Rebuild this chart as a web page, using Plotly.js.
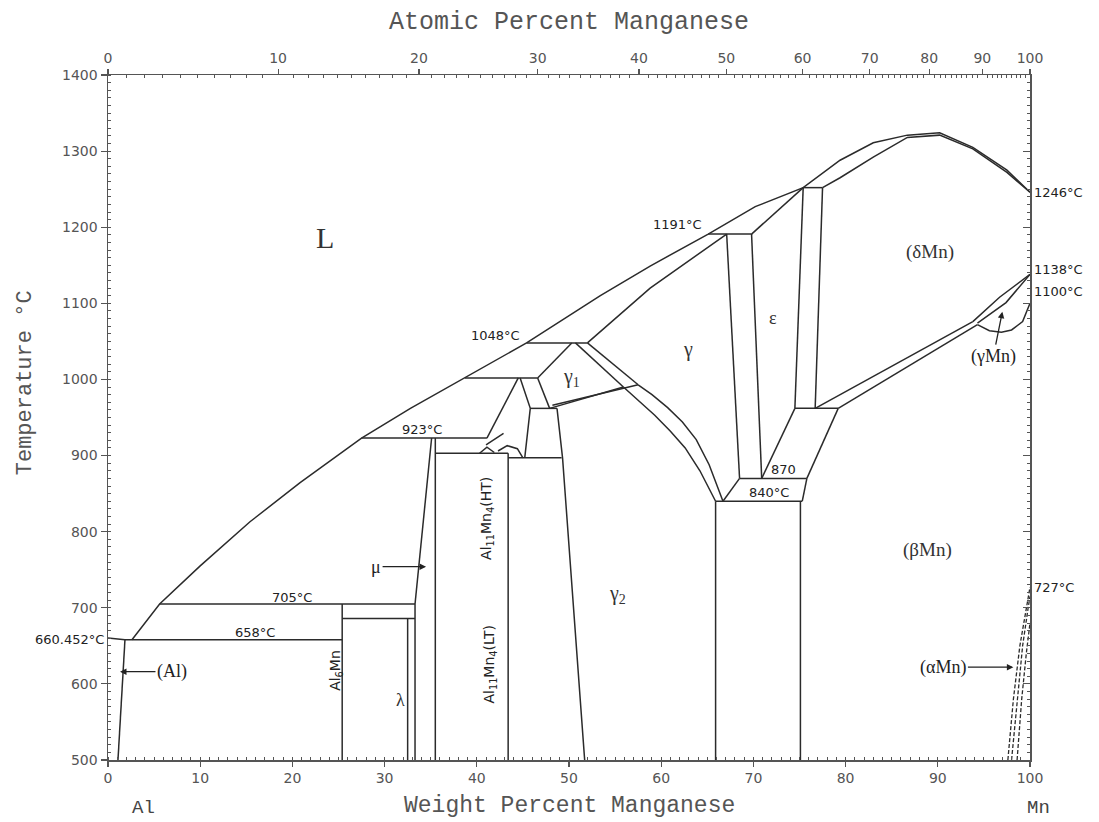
<!DOCTYPE html>
<html>
<head>
<meta charset="utf-8">
<script src="https://cdn.plot.ly/plotly-3.0.1.min.js"></script>
<style>
html,body{margin:0;padding:0;background:#fff;}
#chart{width:1099px;height:822px;}
</style>
</head>
<body>
<div id="chart"></div>
<script>
// ---------------- DATA (weight % Mn, temperature °C) ----------------
// horizontal invariant lines
const isoT    = [658, 705, 686, 923, 903, 897, 1002, 962, 1048, 1191, 1252, 962, 870, 840];
const isoFrom = [1.84, 5.6, 25.4, 27.5, 35.5, 43.4, 38.7, 45.8, 45.4, 65.1, 75.4, 74.5, 68.5, 65.9];
const isoTo   = [25.4, 33.3, 33.3, 41.1, 43.4, 49.2, 46.6, 48.7, 52.0, 69.8, 77.5, 79.2, 75.8, 75.3];

// liquidus
const liquidusWt = [2.6, 5.6, 10.0, 15.4, 20.8, 27.5, 32.8, 38.7, 45.4, 53.4, 58.8, 65.1, 70.2, 75.4, 79.4, 83.0, 86.7, 90.2, 93.8, 97.5, 100];
const liquidusT  = [658, 705, 755, 813, 864, 923, 962, 1002, 1048, 1110, 1149, 1191, 1227, 1252, 1288, 1311, 1321, 1324, 1305, 1275, 1246];
// (δMn) solidus
const deltaSolWt = [77.5, 79.4, 83.0, 86.7, 90.2, 93.8, 97.5, 100];
const deltaSolT  = [1252, 1265, 1292, 1318, 1321, 1303, 1272, 1246];
// γ solidus
const gammaSolWt = [52.0, 58.8, 67.1];
const gammaSolT  = [1048, 1120, 1191];
// Al side
const alMeltWt = [0, 1.84],      alMeltT = [660.452, 658];
const alSolvWt = [1.84, 1.08],   alSolvT = [658, 500];
// intermetallic boundaries
const al6MnWt  = [25.4, 25.4],   al6MnT  = [705, 500];
const lambdaWt = [32.5, 32.5],   lambdaT = [686, 500];
const lamRWt   = [33.3, 33.3],   lamRT   = [705, 500];
const muLWt    = [35.1, 33.3],   muLT    = [923, 705];
const muRWt    = [35.5, 35.5],   muRT    = [923, 500];
const al11RWt  = [43.4, 43.4],   al11RT  = [903, 500];
const diag1Wt  = [44.5, 41.1],   diag1T  = [1002, 923];
const diag2Wt  = [44.7, 45.8, 45.2], diag2T = [1002, 962, 897];
const gam2LWt  = [48.7, 49.3, 51.7], gam2LT = [962, 897, 500];
// γ1 field
const g1LeftWt = [46.6, 47.9],   g1LeftT = [1002, 962];
const g1TopWt  = [46.6, 50.3],   g1TopT  = [1002, 1048];
const g1RWt    = [50.7, 55.9],   g1RT    = [1048, 990];
const g1BotWt  = [47.9, 55.9],   g1BotT  = [962, 990];
const g1Bot2Wt = [48.2, 57.5],   g1Bot2T = [966, 993];
const g1g2Wt   = [52.0, 57.5],   g1g2T   = [1048, 993];
// γ / γ2 arches
const gArchWt  = [57.5, 59.0, 60.7, 62.3, 63.8, 65.2, 66.7], gArchT  = [993, 980, 963, 944, 921, 888, 840];
const g2ArchWt = [55.9, 57.6, 59.3, 61.0, 62.6, 64.2, 65.9], g2ArchT = [990, 972, 953, 932, 910, 880, 840];
// γ, ε fields
const gRWt     = [67.1, 68.5],   gRT     = [1191, 870];
const epsLWt   = [69.8, 70.9],   epsLT   = [1191, 870];
const epsTopWt = [69.8, 75.4],   epsTopT = [1191, 1252];
const epsRWt   = [75.4, 74.5],   epsRT   = [1252, 962];
const delLWt   = [77.5, 76.7],   delLT   = [1252, 962];
const epsLoWt  = [74.5, 70.9],   epsLoT  = [962, 870];
const betULWt  = [79.2, 75.8],   betULT  = [962, 870];
const c870aWt  = [68.5, 66.7],   c870aT  = [870, 840];
const c870bWt  = [75.8, 75.3],   c870bT  = [870, 840];
const g2RWt    = [65.9, 65.9],   g2RT    = [840, 500];
const betLWt   = [75.1, 75.1],   betLT   = [840, 500];
// δ / β / γMn
const dbUpWt   = [76.7, 93.8],   dbUpT   = [962, 1076];
const dbLoWt   = [79.2, 94.3],   dbLoT   = [962, 1072];
const lensUWt  = [93.8, 96.7, 100], lensUT = [1076, 1108, 1138];
const lensIWt  = [94.3, 97.4, 100], lensIT = [1074, 1101, 1138];
const loopWt   = [94.3, 95.6, 96.9, 98.0, 99.2, 100], loopT = [1072, 1064, 1062, 1065, 1076, 1100];
// small features near Al11Mn4
const arcAWt = [40.3, 41.1, 41.9],       arcAT = [903, 911, 904];
const arcBWt = [42.3, 43.3, 44.4, 45.0], arcBT = [906, 913, 909, 897];
const tickWt = [41.0, 42.9],             tickT = [914, 929];
// (αMn) dashed boundaries
const alphaAWt = [97.6, 98.2, 98.9, 99.6, 100], alphaAT = [500, 580, 650, 700, 727];
const alphaBWt = [98.0, 98.6, 99.2, 99.8, 100], alphaBT = [500, 580, 650, 700, 715];
const alphaCWt = [98.6, 99.1, 99.6, 100],       alphaCT = [500, 580, 640, 680];

// top axis: atomic percent labels
const atLabels = [0, 10, 20, 30, 40, 50, 60, 70, 80, 90, 100];
const AL_MASS = 26.9815, MN_MASS = 54.938;

// region labels
const regText = ['L', '(δMn)', '(βMn)', 'γ', 'ε', 'γ<sub>1</sub>', 'γ<sub>2</sub>', 'λ'];
const regWt   = [23.5, 89.2, 88.9, 62.9, 72.1, 50.3, 55.3, 31.7];
const regT    = [1187, 1167, 776, 1039, 1081, 1002, 717, 579];
const regSize = [30, 19, 19, 20, 18, 20, 20, 18];
// rotated compound labels
const rotText = ['Al<sub>6</sub>Mn', 'Al<sub>11</sub>Mn<sub>4</sub>(HT)', 'Al<sub>11</sub>Mn<sub>4</sub>(LT)'];
const rotWt   = [24.8, 41.1, 41.4];
const rotT    = [618, 818, 625];
// temperature labels inside
const tText = ['658°C', '705°C', '923°C', '1048°C', '1191°C', '870', '840°C'];
const tWt   = [15.9, 20.0, 34.1, 42.0, 61.8, 73.3, 71.7];
const tT    = [667, 714, 934, 1058, 1203, 882, 852];
// temperature labels on the right axis
const rText = ['1246°C', '1138°C', '1100°C', '727°C'];
const rT    = [1246, 1144, 1115, 726];

// ---------------- BUILD ----------------
function atToWt(a){ return 100*a*MN_MASS/(a*MN_MASS + (100-a)*AL_MASS); }
const atTickWt = atLabels.map(atToWt);
const atMinor = [];
for (let a = 1; a < 100; a++) if (a % 10 !== 0) atMinor.push(atToWt(a));

const LINE = {color:'#2b2b2b', width:1.5};
const traces = [];
function addLine(x, y, dash){
  traces.push({type:'scatter', mode:'lines', x:x, y:y, hoverinfo:'skip', showlegend:false,
    line:Object.assign({}, LINE, dash ? {dash:'4px,2px', width:1.3} : {})});
}
for (let i = 0; i < isoT.length; i++) addLine([isoFrom[i], isoTo[i]], [isoT[i], isoT[i]]);
[
 [liquidusWt, liquidusT], [deltaSolWt, deltaSolT], [gammaSolWt, gammaSolT],
 [alMeltWt, alMeltT], [alSolvWt, alSolvT], [al6MnWt, al6MnT], [lambdaWt, lambdaT],
 [lamRWt, lamRT], [muLWt, muLT], [muRWt, muRT], [al11RWt, al11RT], [diag1Wt, diag1T],
 [diag2Wt, diag2T], [gam2LWt, gam2LT], [g1LeftWt, g1LeftT], [g1TopWt, g1TopT],
 [g1RWt, g1RT], [g1BotWt, g1BotT], [g1Bot2Wt, g1Bot2T], [g1g2Wt, g1g2T],
 [gArchWt, gArchT], [g2ArchWt, g2ArchT], [gRWt, gRT], [epsLWt, epsLT], [epsTopWt, epsTopT],
 [epsRWt, epsRT], [delLWt, delLT], [epsLoWt, epsLoT], [betULWt, betULT], [c870aWt, c870aT],
 [c870bWt, c870bT], [g2RWt, g2RT], [betLWt, betLT], [dbUpWt, dbUpT], [dbLoWt, dbLoT],
 [lensUWt, lensUT], [lensIWt, lensIT], [loopWt, loopT], [arcAWt, arcAT], [arcBWt, arcBT],
 [tickWt, tickT]
].forEach(p => addLine(p[0], p[1]));
[[alphaAWt, alphaAT], [alphaBWt, alphaBT], [alphaCWt, alphaCT]].forEach(p => addLine(p[0], p[1], true));

// dummy traces so overlay axes are drawn
traces.push({type:'scatter', mode:'markers', x:[50], y:[900], xaxis:'x2', yaxis:'y', marker:{opacity:0}, hoverinfo:'skip', showlegend:false});
traces.push({type:'scatter', mode:'markers', x:[50], y:[900], xaxis:'x', yaxis:'y2', marker:{opacity:0}, hoverinfo:'skip', showlegend:false});

const AX = '#555';
const tickFont = {family:'DejaVu Sans, sans-serif', size:14, color:'#555'};
const annFont = {family:'DejaVu Sans, sans-serif', size:13, color:'#222'};
const serif = 'Liberation Serif, DejaVu Serif, serif';
const mono = 'Liberation Mono, DejaVu Sans Mono, monospace';

const ann = [];
for (let i = 0; i < regText.length; i++)
  ann.push({x:regWt[i], y:regT[i], text:regText[i], showarrow:false, font:{family:serif, size:regSize[i], color:'#333'}});
for (let i = 0; i < rotText.length; i++)
  ann.push({x:rotWt[i], y:rotT[i], text:rotText[i], textangle:-90, showarrow:false, font:{family:'DejaVu Sans, sans-serif', size:14, color:'#222'}});
for (let i = 0; i < tText.length; i++)
  ann.push({x:tWt[i], y:tT[i], text:tText[i], showarrow:false, font:annFont});
for (let i = 0; i < rText.length; i++)
  ann.push({x:100, y:rT[i], text:rText[i], xanchor:'left', xshift:2, showarrow:false, font:annFont});
ann.push({x:0, y:658, text:'660.452°C', xanchor:'right', xshift:-2, showarrow:false, font:annFont});
// arrow labels
ann.push({x:34.5, y:754, text:'μ', showarrow:true, ax:-50, ay:0, arrowhead:2, arrowsize:1, arrowwidth:1.3, arrowcolor:'#222', font:{family:serif, size:18, color:'#222'}});
ann.push({x:1.3, y:616, text:'(Al)', showarrow:true, ax:52, ay:0, arrowhead:2, arrowsize:1, arrowwidth:1.3, arrowcolor:'#222', font:{family:serif, size:18, color:'#222'}});
ann.push({x:98.2, y:622, text:'(αMn)', showarrow:true, ax:-70, ay:0, arrowhead:2, arrowsize:1, arrowwidth:1.3, arrowcolor:'#222', font:{family:serif, size:18, color:'#222'}});
ann.push({x:97.0, y:1089, text:'(γMn)', showarrow:true, ax:-9, ay:45, arrowhead:2, arrowsize:1, arrowwidth:1.3, arrowcolor:'#222', font:{family:serif, size:18, color:'#222'}});
// axis titles and element names
ann.push({xref:'paper', yref:'paper', x:0.5, y:1, yanchor:'middle', yshift:53, text:'Atomic Percent Manganese', showarrow:false, font:{family:mono, size:25, color:'#555'}});
ann.push({xref:'paper', yref:'paper', x:0.5, y:0, yanchor:'middle', yshift:-46, text:'Weight Percent Manganese', showarrow:false, font:{family:mono, size:23, color:'#555'}});
ann.push({xref:'paper', yref:'paper', x:0, y:0.55, xanchor:'center', xshift:-83, text:'Temperature °C', textangle:-90, showarrow:false, font:{family:mono, size:22, color:'#555'}});
ann.push({xref:'paper', yref:'paper', x:0, y:0, yanchor:'middle', xshift:22, yshift:-48, text:'Al', showarrow:false, font:{family:mono, size:19, color:'#444'}});
ann.push({xref:'paper', yref:'paper', x:1, y:0, yanchor:'middle', xshift:22, yshift:-48, text:'Mn', showarrow:false, font:{family:mono, size:19, color:'#444'}});

const layout = {
  width:1099, height:822,
  margin:{l:108, r:69, t:75, b:62},
  paper_bgcolor:'#fff', plot_bgcolor:'#fff',
  showlegend:false,
  xaxis:{range:[0,100], showgrid:false, zeroline:false, showline:true, linecolor:AX, linewidth:1.5,
    tickmode:'array', tickvals:[0,10,20,30,40,50,60,70,80,90,100], ticks:'outside', ticklen:5, tickcolor:AX, tickwidth:1.2,
    minor:{dtick:1, ticks:'inside', ticklen:3, tickcolor:AX, tickwidth:1},
    tickfont:tickFont},
  xaxis2:{range:[0,100], overlaying:'x', side:'top', anchor:'y', showgrid:false, zeroline:false, showline:true, linecolor:AX, linewidth:1.5,
    tickmode:'array', tickvals:atTickWt, ticktext:atLabels.map(String), ticks:'outside', ticklen:5, tickcolor:AX, tickwidth:1.2,
    minor:{tickmode:'array', tickvals:atMinor, ticks:'inside', ticklen:3, tickcolor:AX, tickwidth:1},
    tickfont:tickFont},
  yaxis:{range:[500,1400], showgrid:false, zeroline:false, showline:true, linecolor:AX, linewidth:1.5,
    tickmode:'array', tickvals:[500,600,700,800,900,1000,1100,1200,1300,1400], ticks:'outside', ticklen:6, tickcolor:AX, tickwidth:1.2,
    minor:{dtick:10, ticks:'inside', ticklen:3, tickcolor:AX, tickwidth:1},
    tickfont:tickFont},
  yaxis2:{range:[500,1400], overlaying:'y', side:'right', anchor:'x', showgrid:false, zeroline:false, showline:true, linecolor:AX, linewidth:1.5,
    showticklabels:false, tickmode:'array', tickvals:[600,700,800,900,1000,1100,1200,1300], ticks:'inside', ticklen:7, tickcolor:AX, tickwidth:1.2,
    minor:{dtick:10, ticks:'inside', ticklen:3, tickcolor:AX, tickwidth:1}},
  annotations:ann
};

Plotly.newPlot('chart', traces, layout, {staticPlot:true, displayModeBar:false});
</script>
</body>
</html>
